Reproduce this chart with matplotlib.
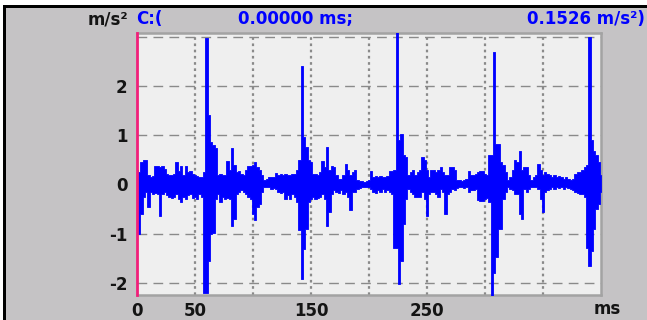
import numpy as np
import matplotlib
matplotlib.use("Agg")
import matplotlib.pyplot as plt
from matplotlib.patches import Rectangle

# ---------------- data ----------------
dt_ms = 2  # sample spacing of the envelope (ms)
# upper envelope of the acceleration signal (m/s^2), t = 0..400 ms every 2 ms
upper = [
    0.30, 0.25, 0.45, 0.50, 0.50, 0.20, 0.15, 0.18, 0.38, 0.38,
    0.36, 0.38, 0.32, 0.22, 0.20, 0.20, 0.22, 0.45, 0.28, 0.38,
    0.20, 0.38, 0.25, 0.27, 0.22, 0.20, 0.18, 0.15, 0.15, 0.25,
    2.98, 1.41, 0.86, 0.80, 0.75, 0.20, 0.22, 0.20, 0.20, 0.48,
    0.30, 0.75, 0.40, 0.25, 0.27, 0.22, 0.20, 0.30, 0.38, 0.38,
    0.40, 0.45, 0.35, 0.30, 0.20, 0.10, 0.12, 0.15, 0.15, 0.15,
    0.24, 0.20, 0.22, 0.20, 0.22, 0.20, 0.20, 0.22, 0.22, 0.30,
    0.49, 2.41, 0.96, 0.76, 0.50, 0.45, 0.22, 0.22, 0.20, 0.25,
    0.48, 0.35, 0.76, 0.30, 0.38, 0.35, 0.20, 0.12, 0.12, 0.20,
    0.42, 0.30, 0.20, 0.25, 0.30, 0.10, 0.08, 0.08, 0.06, 0.08,
    0.10, 0.27, 0.15, 0.18, 0.15, 0.18, 0.15, 0.15, 0.18, 0.27,
    0.27, 0.30, 3.20, 0.90, 1.02, 0.60, 0.55, 0.20, 0.25, 0.30,
    0.20, 0.25, 0.30, 0.55, 0.50, 0.30, 0.15, 0.30, 0.30, 0.25,
    0.30, 0.35, 0.25, 0.20, 0.20, 0.35, 0.35, 0.30, 0.10, 0.10,
    0.08, 0.10, 0.12, 0.27, 0.20, 0.20, 0.22, 0.25, 0.27, 0.27,
    0.22, 0.20, 0.60, 0.60, 2.70, 0.83, 0.83, 0.45, 0.40, 0.25,
    0.10, 0.15, 0.30, 0.50, 0.45, 0.69, 0.30, 0.35, 0.35, 0.20,
    0.10, 0.15, 0.20, 0.42, 0.30, 0.20, 0.25, 0.22, 0.20, 0.15,
    0.20, 0.15, 0.18, 0.15, 0.12, 0.15, 0.12, 0.10, 0.12, 0.22,
    0.25, 0.25, 0.30, 0.35, 0.40, 3.00, 0.90, 0.69, 0.60, 0.45,
    0.20,
]
# lower envelope
lower = [
    -1.00, -1.00, -0.60, -0.25, -0.15, -0.45, -0.15, -0.20, -0.18, -0.20,
    -0.63, -0.20, -0.15, -0.22, -0.25, -0.28, -0.25, -0.20, -0.30, -0.35,
    -0.25, -0.30, -0.22, -0.20, -0.28, -0.25, -0.30, -0.20, -0.25, -2.20,
    -2.20, -1.55, -1.00, -0.98, -0.30, -0.20, -0.35, -0.25, -0.30, -0.28,
    -0.30, -0.84, -0.70, -0.20, -0.15, -0.12, -0.15, -0.20, -0.25, -0.30,
    -0.60, -0.73, -0.46, -0.40, -0.15, -0.05, -0.05, -0.05, -0.10, -0.08,
    -0.10, -0.15, -0.18, -0.15, -0.30, -0.22, -0.30, -0.20, -0.25, -0.35,
    -0.93, -1.92, -1.30, -0.90, -0.35, -0.30, -0.25, -0.30, -0.28, -0.25,
    -0.20, -0.30, -0.84, -0.55, -0.20, -0.12, -0.15, -0.18, -0.12, -0.20,
    -0.15, -0.25, -0.52, -0.15, -0.15, -0.10, -0.08, -0.05, -0.05, -0.06,
    -0.05, -0.10, -0.15, -0.18, -0.12, -0.15, -0.10, -0.15, -0.12, -0.15,
    -0.20, -1.28, -1.28, -2.02, -1.55, -0.80, -0.30, -0.10, -0.15, -0.20,
    -0.25, -0.25, -0.25, -0.15, -0.30, -0.63, -0.20, -0.15, -0.15, -0.20,
    -0.25, -0.10, -0.15, -0.60, -0.20, -0.15, -0.10, -0.12, -0.08, -0.06,
    -0.05, -0.08, -0.05, -0.15, -0.12, -0.12, -0.10, -0.32, -0.33, -0.33,
    -0.30, -0.28, -0.35, -2.30, -1.80, -1.48, -0.91, -0.90, -0.30, -0.15,
    -0.05, -0.10, -0.12, -0.20, -0.20, -0.60, -0.70, -0.10, -0.15, -0.10,
    -0.05, -0.05, -0.05, -0.10, -0.30, -0.55, -0.15, -0.12, -0.10, -0.05,
    -0.10, -0.05, -0.08, -0.05, -0.10, -0.05, -0.08, -0.10, -0.12, -0.15,
    -0.18, -0.20, -0.20, -0.25, -1.29, -1.65, -1.36, -0.90, -0.50, -0.40,
    -0.15,
]
time_ms = np.arange(len(upper)) * dt_ms

x_tick_values = [0, 50, 150, 250]
x_tick_labels = ["0", "50", "150", "250"]
x_unit = "ms"
y_tick_values = [-2, -1, 0, 1, 2]
y_tick_labels = ["-2", "-1", "0", "1", "2"]
x_grid = [50, 100, 150, 200, 250, 300, 350]
y_grid = [-2, -1, 0, 1, 2, 3]
y_unit = "m/s²"
cursor_text = ["C:(", "0.00000 ms;", "0.1526 m/s²)"]

# ---------------- figure ----------------
W, H = 647, 320
fig = plt.figure(figsize=(W / 100, H / 100), dpi=100)
fig.patch.set_facecolor("#C5C3C5")

def px(x, y):
    return x / W, 1 - y / H

# white margin + black frame (top and left)
fig.add_artist(Rectangle((0, 1 - 5 / H), 1, 5 / H, transform=fig.transFigure,
                         facecolor="white", edgecolor="none", zorder=0))
fig.add_artist(Rectangle((0, 0), 3 / W, 1, transform=fig.transFigure,
                         facecolor="white", edgecolor="none", zorder=0))
fig.add_artist(Rectangle((3 / W, 1 - 8 / H), 1, 3 / H, transform=fig.transFigure,
                         facecolor="black", edgecolor="none", zorder=1))
fig.add_artist(Rectangle((3 / W, 0), 3 / W, 1 - 5 / H, transform=fig.transFigure,
                         facecolor="black", edgecolor="none", zorder=1))

left, right, top, bottom = 137, 601, 33, 295
ax = fig.add_axes([left / W, 1 - bottom / H, (right - left) / W, (bottom - top) / H])
ax.set_facecolor("#EFEFEF")
ax.set_xlim(0, 400)
ax.set_ylim(-2.244, 3.076)

grid_col = "#8A8A8A"
for gx in x_grid:
    ax.axvline(gx, color=grid_col, lw=1.6, ls=(0, (1.2, 1.6)), zorder=1)
for gy in y_grid:
    ax.axhline(gy, color=grid_col, lw=1.0, ls=(0, (7, 4.5)), zorder=1)

ax.fill_between(time_ms, lower, upper, step="mid", color="#0000FF",
                edgecolor="#0000FF", lw=0.6, zorder=3)

for s in ["top", "right", "bottom"]:
    ax.spines[s].set_color("#A3A3A3")
    ax.spines[s].set_linewidth(1.8)
ax.spines["left"].set_color("#F0207A")
ax.spines["left"].set_linewidth(2.0)
ax.spines["left"].set_zorder(5)

font = dict(family="DejaVu Sans", weight="bold", size=12)
ax.set_xticks(x_tick_values)
ax.set_xticklabels(x_tick_labels, **font, color="#141414")
ax.set_yticks(y_tick_values)
ax.set_yticklabels(y_tick_labels, **font, color="#141414")
ax.tick_params(axis="both", length=0)
ax.tick_params(axis="y", pad=7)
ax.tick_params(axis="x", pad=5)
ax.text(405, -0.055, x_unit, transform=ax.get_xaxis_transform(),
        ha="center", va="center", **font, color="#141414", clip_on=False)

# header
hy = 19
fig.text(*px(128, hy), y_unit, ha="right", va="center", **font, color="#141414")
fig.text(*px(136, hy), cursor_text[0], ha="left", va="center", **font, color="#0000FF")
fig.text(*px(295, hy), cursor_text[1], ha="center", va="center", **font, color="#0000FF")
fig.text(*px(645, hy), cursor_text[2], ha="right", va="center", **font, color="#0000FF")

fig.savefig("out.png", dpi=100, facecolor=fig.get_facecolor())
